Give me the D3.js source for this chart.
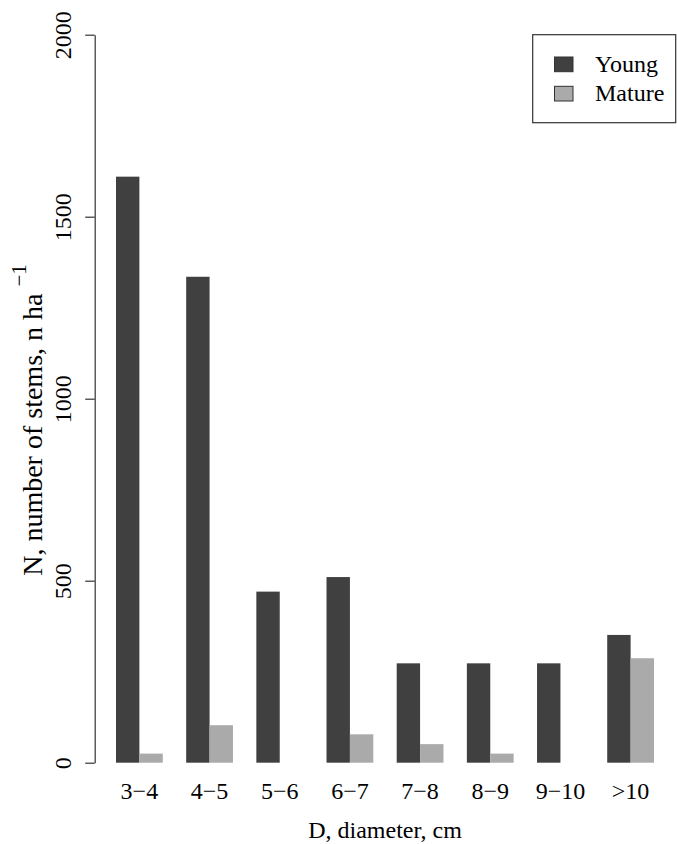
<!DOCTYPE html>
<html>
<head>
<meta charset="utf-8">
<script src="https://cdn.jsdelivr.net/npm/d3@7"></script>
<style>
  body { margin: 0; background: #fff; }
  svg text { font-family: "Liberation Serif", "Times New Roman", serif; fill: #000; }
</style>
</head>
<body>
<div id="chart"></div>
<script>
// diameter classes and stem counts per hectare
var classes = ["3\u22124", "4\u22125", "5\u22126", "6\u22127", "7\u22128", "8\u22129", "9\u221210", ">10"];
var series = ["Young", "Mature"];
var youngValues = [1610, 1335, 470, 510, 273, 273, 273, 351];
var matureValues = [25, 103, 0, 78, 51, 25, 0, 287];
var yTicks = [0, 500, 1000, 1500, 2000];
var colors = {Young: "#404040", Mature: "#aaaaaa"};

var width = 677, height = 844;
var serif = "'Liberation Serif', 'Times New Roman', serif";

var svg = d3.select("#chart")
    .append("svg")
    .attr("width", width)
    .attr("height", height)
    .attr("font-family", serif);

// group scale, two bars per group and one bar width of space
var x0 = d3.scaleBand()
    .domain(classes)
    .range([116, 654])
    .paddingInner(1 / 3)
    .paddingOuter(0);

var x1 = d3.scaleBand()
    .domain(series)
    .range([0, x0.bandwidth()]);

var y = d3.scaleLinear()
    .domain([0, 2000])
    .range([762.7, 34.7]);

var data = classes.map(function(c, i) {
    return {cls: c, values: [
        {key: "Young", value: youngValues[i]},
        {key: "Mature", value: matureValues[i]}
    ]};
});

// bars
var groups = svg.selectAll("g.grp")
    .data(data)
    .enter()
    .append("g")
    .attr("class", "grp")
    .attr("transform", function(d) { return "translate(" + x0(d.cls) + ",0)"; });

groups.selectAll("rect")
    .data(function(d) { return d.values; })
    .enter()
    .append("rect")
    .attr("x", function(d) { return x1(d.key); })
    .attr("y", function(d) { return y(d.value); })
    .attr("width", x1.bandwidth())
    .attr("height", function(d) { return y(0) - y(d.value); })
    .attr("fill", function(d) { return colors[d.key]; });

// y axis, R style: line only spans the ticks
var yAxis = svg.append("g")
    .attr("transform", "translate(94.7,0)")
    .call(d3.axisLeft(y).tickValues(yTicks).tickSize(9.5).tickPadding(0).tickSizeOuter(0));
yAxis.attr("font-family", serif);
yAxis.select(".domain").attr("stroke", "#333").attr("stroke-width", 1.2);
yAxis.selectAll(".tick line").attr("stroke", "#333").attr("stroke-width", 1.2);
yAxis.selectAll(".tick text").remove();
yAxis.selectAll(".tick")
    .append("text")
    .attr("transform", "translate(-24,0) rotate(-90)")
    .attr("text-anchor", "middle")
    .style("font-size", "24px")
    .text(function(d) { return d; });

// x category labels (no axis line)
svg.selectAll("text.xlab")
    .data(classes)
    .enter()
    .append("text")
    .attr("class", "xlab")
    .attr("x", function(d) { return x0(d) + x0.bandwidth() / 2; })
    .attr("y", 799)
    .attr("text-anchor", "middle")
    .style("font-size", "24px")
    .text(function(d) { return d; });

// axis titles
svg.append("text")
    .attr("x", (116 + 654) / 2)
    .attr("y", 838)
    .attr("text-anchor", "middle")
    .style("font-size", "24px")
    .text("D, diameter, cm");

var ylab = svg.append("text")
    .attr("transform", "translate(41.5,420) rotate(-90)")
    .attr("text-anchor", "middle")
    .style("font-size", "28px");
ylab.append("tspan").text("N, number of stems, n ha ");
ylab.append("tspan").attr("dy", -16).style("font-size", "21px").text("\u22121");

// legend
var legend = svg.append("g");
legend.append("rect")
    .attr("x", 532.7).attr("y", 34.7)
    .attr("width", 143).attr("height", 88)
    .attr("fill", "#fff").attr("stroke", "#333").attr("stroke-width", 1.2);

var items = legend.selectAll("g.item")
    .data(series)
    .enter()
    .append("g")
    .attr("class", "item")
    .attr("transform", function(d, i) { return "translate(0," + (i * 29.3) + ")"; });

items.append("rect")
    .attr("x", 554.5).attr("y", 57)
    .attr("width", 18.5).attr("height", 14.7)
    .attr("fill", function(d) { return colors[d]; })
    .attr("stroke", "#333").attr("stroke-width", 1);

items.append("text")
    .attr("x", 595)
    .attr("y", 72)
    .style("font-size", "24px")
    .text(function(d) { return d; });
</script>
</body>
</html>
